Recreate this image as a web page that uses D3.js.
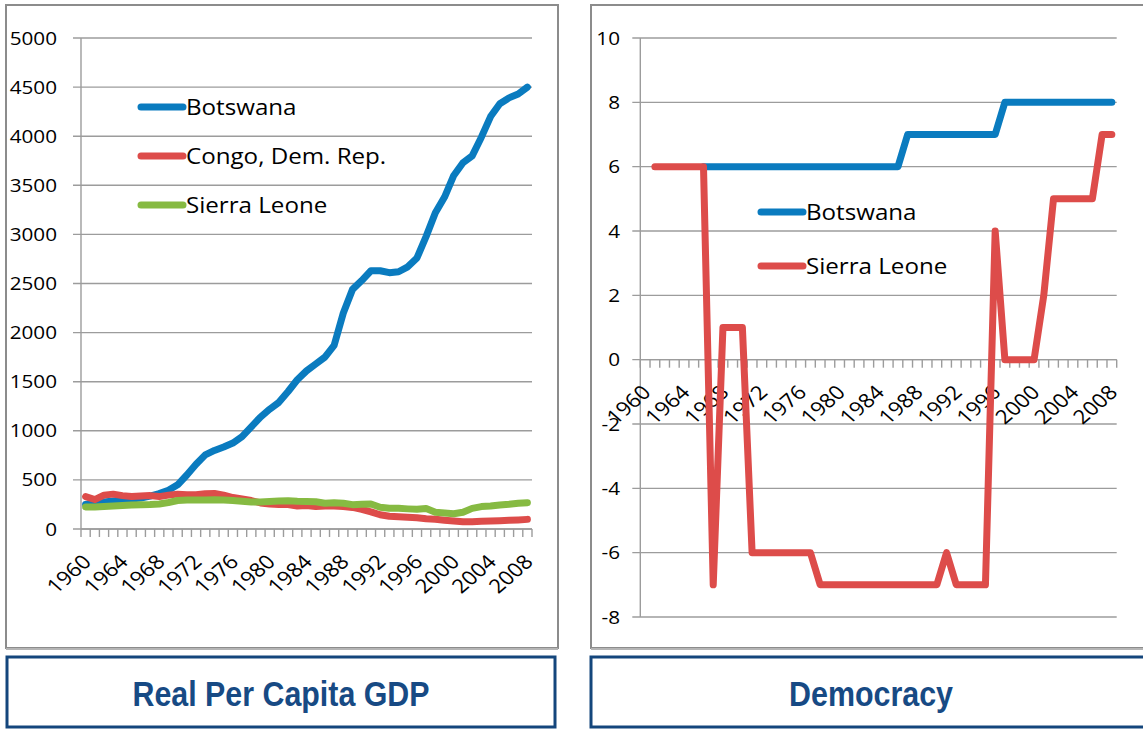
<!DOCTYPE html>
<html>
<head>
<meta charset="utf-8">
<script src="https://cdn.jsdelivr.net/npm/d3@7/dist/d3.min.js"></script>
<style>
  html, body { margin: 0; padding: 0; background: #ffffff; }
  svg { display: block; }
  text { font-family: "Open Sans", "DejaVu Sans", sans-serif; fill: #000; }
</style>
</head>
<body>
<svg id="chart" width="1143" height="730"></svg>
<script>
// ---------------- DATA ----------------
const years = [1960,1961,1962,1963,1964,1965,1966,1967,1968,1969,
  1970,1971,1972,1973,1974,1975,1976,1977,1978,1979,
  1980,1981,1982,1983,1984,1985,1986,1987,1988,1989,
  1990,1991,1992,1993,1994,1995,1996,1997,1998,1999,
  2000,2001,2002,2003,2004,2005,2006,2007,2008];

const yearTickLabels = [1960,1964,1968,1972,1976,1980,1984,1988,1992,1996,2000,2004,2008];

const gdpTicks = [0,500,1000,1500,2000,2500,3000,3500,4000,4500,5000];
const demTicks = [-8,-6,-4,-2,0,2,4,6,8,10];

const gdpBotswana = [250,262,275,285,295,305,315,335,360,395,
  450,550,660,755,800,835,875,940,1040,1140,
  1220,1290,1400,1520,1610,1680,1750,1870,2200,2440,
  2530,2630,2630,2610,2620,2670,2760,2980,3220,3380,
  3600,3730,3800,3990,4200,4330,4390,4430,4500];

const gdpCongo = [330,300,345,355,340,330,335,340,330,345,
  355,350,350,360,362,345,320,305,290,265,
  255,250,250,235,240,230,235,235,230,220,
  200,175,145,130,125,120,115,105,100,90,
  82,75,75,78,82,85,88,92,98];

const gdpSierraLeone = [225,225,230,235,240,245,248,250,255,270,
  290,295,295,295,298,295,290,282,275,275,
  280,285,288,282,280,278,262,268,262,248,
  252,255,222,212,212,205,200,208,170,162,
  155,170,210,228,235,245,252,262,268];

const demBotswana = [null,null,null,null,null,null,6,6,6,6,
  6,6,6,6,6,6,6,6,6,6,
  6,6,6,6,6,6,6,7,7,7,
  7,7,7,7,7,7,7,8,8,8,
  8,8,8,8,8,8,8,8,8];

const demSierraLeone = [null,6,6,6,6,6,6,-7,1,1,
  1,-6,-6,-6,-6,-6,-6,-6,-7,-7,
  -7,-7,-7,-7,-7,-7,-7,-7,-7,-7,
  -7,-6,-7,-7,-7,-7,4,0,0,0,
  0,2,5,5,5,5,5,7,7];

const gdpSeries = [
  {name: "Botswana", values: gdpBotswana, color: "#0a7bbf"},
  {name: "Congo, Dem. Rep.", values: gdpCongo, color: "#dd4c4a"},
  {name: "Sierra Leone", values: gdpSierraLeone, color: "#86ba42"}
];
const demSeries = [
  {name: "Botswana", values: demBotswana, color: "#0a7bbf"},
  {name: "Sierra Leone", values: demSierraLeone, color: "#dd4c4a"}
];

// ---------------- DRAW ----------------
const SX = 1.15; // horizontal text stretch
const svg = d3.select("#chart");
const gridColor = "#9c9c9c";

function stretchText(g, str, x, y, opts) {
  opts = opts || {};
  const t = g.append("text")
    .attr("transform", `translate(${x},${y}) scale(${opts.sx || SX},1)` + (opts.rot ? ` rotate(${opts.rot})` : ""))
    .attr("text-anchor", opts.anchor || "start")
    .style("font-size", (opts.size || 18) + "px")
    .text(str);
  return t;
}

function frame(x, y, w, h) {
  svg.append("rect").attr("x", x).attr("y", y).attr("width", w).attr("height", h)
    .attr("fill", "#fff").attr("stroke", "#8c8c8c").attr("stroke-width", 2);
  svg.append("line").attr("x1", x).attr("x2", x + w).attr("y1", y + h + 1).attr("y2", y + h + 1)
    .attr("stroke", "#b5b5b5").attr("stroke-width", 2);
}

function titleBox(x, y, w, h, str, tl) {
  svg.append("rect").attr("x", x).attr("y", y).attr("width", w).attr("height", h)
    .attr("fill", "#fff").attr("stroke", "#14467c").attr("stroke-width", 3);
  svg.append("text")
    .attr("x", x + w / 2).attr("y", y + 49)
    .attr("text-anchor", "middle")
    .attr("textLength", tl).attr("lengthAdjust", "spacingAndGlyphs")
    .style("font-family", "'Liberation Sans Narrow', 'Liberation Sans', Arial, sans-serif")
    .style("font-weight", "bold")
    .style("font-size", "35px")
    .style("fill", "#174a84")
    .text(str);
}

function drawChart(cfg) {
  const g = svg.append("g");
  const x = d3.scaleBand().domain(years).range([cfg.x0, cfg.x1]).padding(0);
  const y = d3.scaleLinear().domain(cfg.domain).range([cfg.yBottom, cfg.yTop]);
  const cx = d => x(d) + x.bandwidth() / 2;

  // gridlines + y tick marks
  cfg.ticks.forEach(v => {
    g.append("line").attr("x1", cfg.x0 - 8).attr("x2", cfg.x1)
      .attr("y1", y(v)).attr("y2", y(v))
      .attr("stroke", gridColor).attr("stroke-width", 1.4);
    stretchText(g, String(v), cfg.labelX, y(v) + 6.5, {anchor: "end", size: 18});
  });
  // y axis line
  g.append("line").attr("x1", cfg.x0).attr("x2", cfg.x0)
    .attr("y1", cfg.yTop).attr("y2", cfg.yBottom)
    .attr("stroke", gridColor).attr("stroke-width", 1.4);

  // x axis at crossing value
  const ax = y(cfg.cross);
  g.append("line").attr("x1", cfg.x0).attr("x2", cfg.x1).attr("y1", ax).attr("y2", ax)
    .attr("stroke", gridColor).attr("stroke-width", 1.4);
  const bounds = years.map(d => x(d)).concat([cfg.x1]);
  bounds.forEach(b => {
    g.append("line").attr("x1", b).attr("x2", b).attr("y1", ax).attr("y2", ax + 8)
      .attr("stroke", gridColor).attr("stroke-width", 1.4);
  });
  yearTickLabels.forEach(yr => {
    stretchText(g, String(yr), cx(yr) + 7, ax + 34, {anchor: "end", size: 19.5, rot: -45});
  });

  // series
  cfg.series.forEach(s => {
    const line = d3.line()
      .defined((v) => v !== null)
      .x((v, i) => cx(years[i]))
      .y(v => y(v));
    g.append("path").attr("d", line(s.values))
      .attr("fill", "none").attr("stroke", s.color).attr("stroke-width", 7)
      .attr("stroke-linejoin", "round").attr("stroke-linecap", "round");
  });

  // legend
  cfg.series.forEach((s, i) => {
    const ly = cfg.legY + i * cfg.legStep;
    g.append("line").attr("x1", cfg.legX).attr("x2", cfg.legX + 42)
      .attr("y1", ly).attr("y2", ly)
      .attr("stroke", s.color).attr("stroke-width", 7).attr("stroke-linecap", "round");
    stretchText(g, s.name, cfg.legX + 45, ly + 8, {size: 21});
  });
}

// frames
frame(6, 5, 552, 643);
frame(591, 5, 560, 643);

drawChart({
  x0: 81, x1: 532, yTop: 38, yBottom: 529, domain: [0, 5000], cross: 0,
  ticks: gdpTicks, labelX: 57, series: gdpSeries,
  legX: 141, legY: 107, legStep: 49
});

drawChart({
  x0: 640.3, x1: 1116.7, yTop: 38, yBottom: 617, domain: [-8, 10], cross: 0,
  ticks: demTicks, labelX: 620, series: demSeries,
  legX: 761, legY: 212, legStep: 54
});

titleBox(7, 657, 548, 70, "Real Per Capita GDP", 297);
titleBox(591, 657, 560, 70, "Democracy", 164);
</script>
</body>
</html>
